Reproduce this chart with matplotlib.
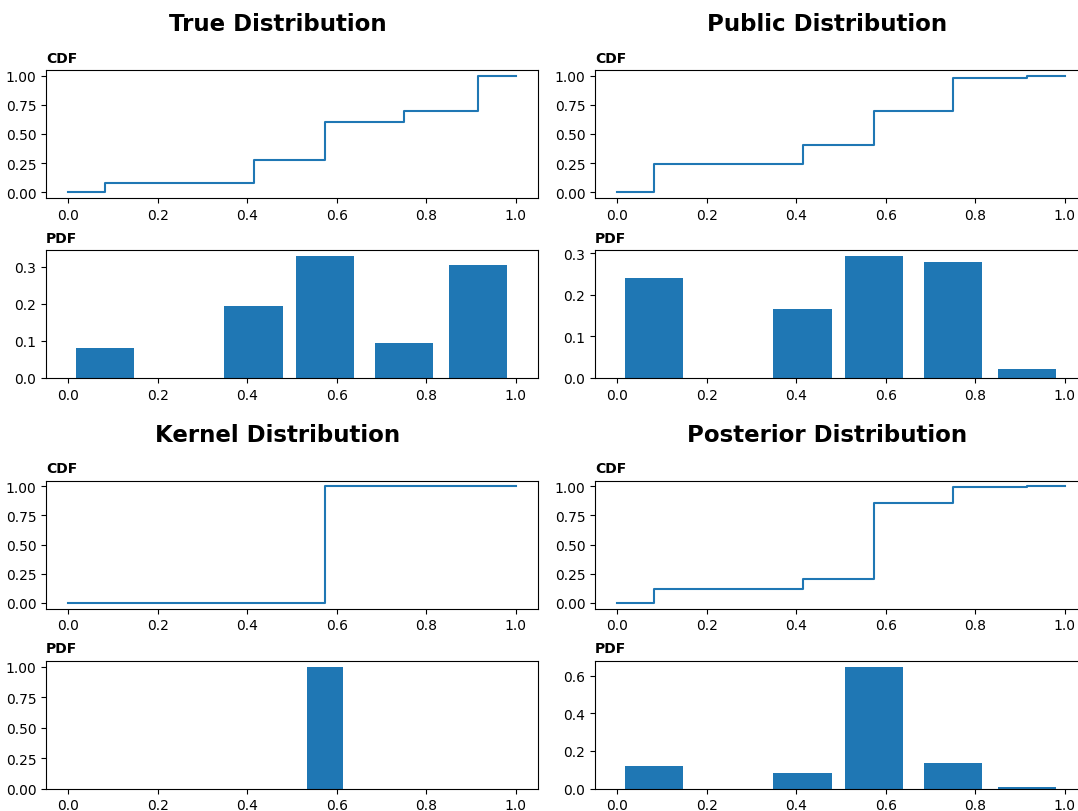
import matplotlib
matplotlib.use('Agg')
import matplotlib.pyplot as plt
from matplotlib.ticker import MaxNLocator
import numpy as np

# support points shared by every distribution
support = [0.081, 0.414, 0.573, 0.75, 0.915]

true_pdf = [0.082, 0.193, 0.328, 0.093, 0.304]
public_pdf = [0.240, 0.167, 0.293, 0.278, 0.022]
kernel_pdf = [0.0, 0.0, 1.0, 0.0, 0.0]
posterior_pdf = [0.121, 0.084, 0.650, 0.137, 0.009]

titles = ['True Distribution', 'Public Distribution',
          'Kernel Distribution', 'Posterior Distribution']
pdfs = [true_pdf, public_pdf, kernel_pdf, posterior_pdf]
bar_widths = [0.13, 0.13, 0.08, 0.13]

W, H = 1078, 812
fig = plt.figure(figsize=(W / 100, H / 100), dpi=100)


def add_ax(left, top, width, height):
    return fig.add_axes([left / W, 1 - (top + height) / H, width / W, height / H])


def y_ticks(ax):
    ax.yaxis.set_major_locator(MaxNLocator(nbins=5, steps=[1, 2, 2.5, 5, 10]))


col_left = [46, 595]
group_top = [0, 410.5]
ax_w = 492
ax_h = 128

for k, (title, pdf, bw) in enumerate(zip(titles, pdfs, bar_widths)):
    col = k % 2
    row = k // 2
    left = col_left[col]
    off = group_top[row]

    fig.text((left + ax_w / 2 - 14) / W, 1 - (off + 31) / H, title,
             ha='center', va='baseline', fontsize=16.5, fontweight='bold')

    # CDF as a step line over [0, 1]
    cdf = np.cumsum(pdf)
    xs = [0.0] + support + [1.0]
    ys = [0.0] + list(cdf) + [cdf[-1]]
    ax_cdf = add_ax(left, off + 71, ax_w, ax_h)
    ax_cdf.step(xs, ys, where='post')
    ax_cdf.set_xlim(-0.05, 1.05)
    y_ticks(ax_cdf)
    ax_cdf.set_title('CDF', loc='left', fontsize=10, fontweight='bold')

    ax_pdf = add_ax(left, off + 251, ax_w, ax_h)
    if k == 2:
        nz = [i for i, p in enumerate(pdf) if p > 0]
        ax_pdf.bar([support[i] for i in nz], [pdf[i] for i in nz], width=bw)
    else:
        ax_pdf.bar(support, pdf, width=bw)
    ax_pdf.set_xlim(-0.05, 1.05)
    y_ticks(ax_pdf)
    ax_pdf.set_title('PDF', loc='left', fontsize=10, fontweight='bold')

fig.savefig('out.png', dpi=100)
